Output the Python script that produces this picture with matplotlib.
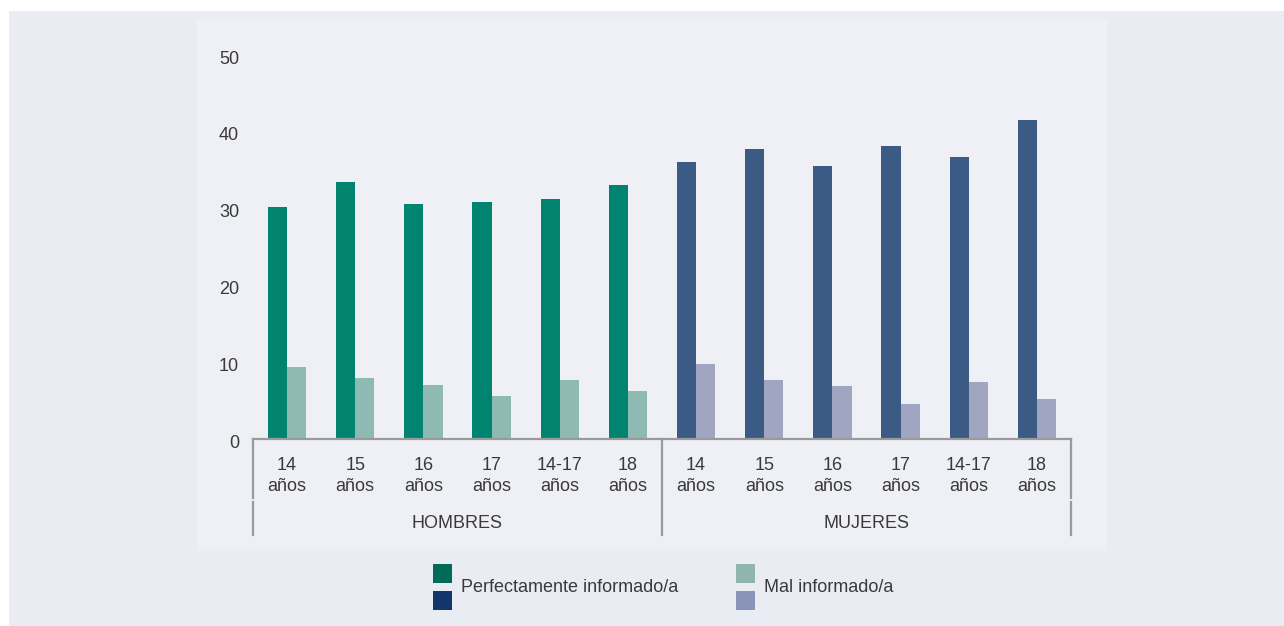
import numpy as np
import matplotlib
matplotlib.use("Agg")
import matplotlib.pyplot as plt
from matplotlib.patches import Rectangle
from matplotlib.lines import Line2D
from matplotlib.transforms import blended_transform_factory, ScaledTranslation

# data (%)
ages = ['14\naños', '15\naños', '16\naños', '17\naños', '14-17\naños', '18\naños']
groups = ['HOMBRES', 'MUJERES']
perfect_h = [30.1, 33.3, 30.5, 30.8, 31.2, 32.9]
mal_h = [9.3, 7.9, 6.9, 5.5, 7.6, 6.2]
perfect_m = [36.0, 37.6, 35.5, 38.0, 36.6, 41.4]
mal_m = [9.7, 7.6, 6.8, 4.5, 7.3, 5.1]
legend_labels = ['Perfectamente informado/a', 'Mal informado/a']

W, H = 1284, 626
plt.rcParams['font.family'] = ['Liberation Sans', 'DejaVu Sans']
txt = '#3a3a3a'
grey = '#9a9a9a'
fs = 13

fig = plt.figure(figsize=(W / 100, H / 100), dpi=100)
fig.patch.set_facecolor('white')


def fx(px):
    return px / W


def fy(py):
    return 1 - py / H


# backgrounds
fig.patches.append(Rectangle((fx(9), 0), 1 - fx(9), fy(11), transform=fig.transFigure,
                             facecolor='#eaecf3', edgecolor='none', zorder=-10))
fig.patches.append(Rectangle((fx(197), fy(551)), fx(1107 - 197), (551 - 19) / H,
                             transform=fig.transFigure, facecolor='#eff0f5',
                             edgecolor='none', zorder=-9))

ax = fig.add_axes([fx(253), fy(438.5), fx(1071 - 253), (438.5 - 54) / H])
ax.set_facecolor('none')

n = len(ages)
x = np.arange(2 * n)
bw = 0.28
ax.bar(x[:n] - bw / 2, perfect_h, bw, color='#00846f')
ax.bar(x[:n] + bw / 2, mal_h, bw, color='#8fbab4')
ax.bar(x[n:] - bw / 2, perfect_m, bw, color='#3b5a84')
ax.bar(x[n:] + bw / 2, mal_m, bw, color='#a0a6c1')

ax.set_xlim(-0.5, 2 * n - 0.5)
ax.set_ylim(0, 50)
ax.set_yticks(range(0, 51, 10))
ax.tick_params(axis='y', length=0, pad=10, labelsize=fs, labelcolor=txt)
for lbl in ax.get_yticklabels():
    lbl.set_transform(lbl.get_transform() + ScaledTranslation(0, -3 / 100, fig.dpi_scale_trans))
ax.set_xticks([])
for s in ['left', 'right', 'top']:
    ax.spines[s].set_visible(False)
ax.spines['bottom'].set_color(grey)
ax.spines['bottom'].set_linewidth(1.6)

# category labels
tr = blended_transform_factory(ax.transData, fig.transFigure)
for i, lab in enumerate(ages + ages):
    ax.text(i, fy(476), lab, transform=tr, ha='center', va='center',
            fontsize=fs, color=txt, linespacing=1.3)
for g, lab in enumerate(groups):
    ax.text(g * n + (n - 1) / 2, fy(524), lab, transform=tr, ha='center', va='center',
            fontsize=fs, color=txt)

# group separators
for xs in [-0.5, n - 0.5, 2 * n - 0.5]:
    if xs == n - 0.5:
        ax.add_line(Line2D([xs, xs], [fy(438.5), fy(535)], transform=tr, color=grey,
                           lw=1.6, clip_on=False))
    else:
        ax.add_line(Line2D([xs, xs], [fy(438.5), fy(498)], transform=tr, color=grey,
                           lw=1.6, clip_on=False))
        ax.add_line(Line2D([xs, xs], [fy(502), fy(535)], transform=tr, color=grey,
                           lw=1.6, clip_on=False))

# legend
leg_cols = [('#006b58', '#12356a'), ('#8fb5ae', '#8a93b8')]
for (c1, c2), lx, tx, lab in zip(leg_cols, [433, 736], [461, 764], legend_labels):
    fig.patches.append(Rectangle((fx(lx), fy(583)), fx(19), 19 / H, transform=fig.transFigure,
                                 facecolor=c1, edgecolor='none'))
    fig.patches.append(Rectangle((fx(lx), fy(610)), fx(19), 19 / H, transform=fig.transFigure,
                                 facecolor=c2, edgecolor='none'))
    fig.text(fx(tx), fy(588), lab, ha='left', va='center', fontsize=fs, color=txt)

fig.savefig('out.png', dpi=100)
